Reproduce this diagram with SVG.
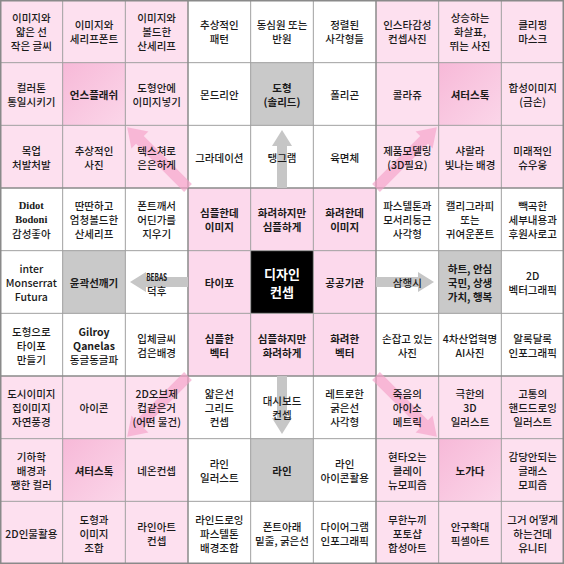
<svg xmlns="http://www.w3.org/2000/svg" width="564" height="564" viewBox="0 0 564 564">
<defs>
<linearGradient id="pdg" x1="0" y1="0" x2="1" y2="1">
<stop offset="0" stop-color="#f7b9d8"/>
<stop offset="1" stop-color="#fbd6e9"/>
</linearGradient>
</defs>
<style>
.t{font-family:"Noto Sans CJK KR","Noto Sans",sans-serif;font-size:10.5px;font-weight:500;text-anchor:middle;dominant-baseline:central;fill:#1a1a1a}
.b{font-weight:700}
.wt{fill:#ffffff;font-size:13px;font-weight:700}
.sf{font-family:"Liberation Serif",serif;font-weight:700}
.pk{fill:#fde0ef}
.pc{fill:#fcd9ec}
.wh{fill:#ffffff}
.pd{fill:url(#pdg)}
.gr{fill:#c9c9c9}
.bk{fill:#000000}
.gl{stroke:#a0a0a0;stroke-width:1;fill:none}
.bl{stroke:#8a8a8a;stroke-width:1.5;fill:none}
.ga{fill:#c6c6c6}
.pa{fill:#f4a4ca;opacity:0.68}
</style>
<g id="background">
<rect class="pk" x="0" y="0" width="188" height="188"/>
<rect class="wh" x="188" y="0" width="188" height="188"/>
<rect class="pk" x="376" y="0" width="188" height="188"/>
<rect class="wh" x="0" y="188" width="188" height="188"/>
<rect class="pc" x="188" y="188" width="188" height="188"/>
<rect class="wh" x="376" y="188" width="188" height="188"/>
<rect class="pk" x="0" y="376" width="188" height="188"/>
<rect class="wh" x="188" y="376" width="188" height="188"/>
<rect class="pk" x="376" y="376" width="188" height="188"/>
<rect class="pd" x="62.67" y="62.67" width="62.67" height="62.67"/>
<rect class="gr" x="250.67" y="62.67" width="62.67" height="62.67"/>
<rect class="pd" x="438.67" y="62.67" width="62.67" height="62.67"/>
<rect class="gr" x="62.67" y="250.67" width="62.67" height="62.67"/>
<rect class="bk" x="250.67" y="250.67" width="62.67" height="62.67"/>
<rect class="gr" x="438.67" y="250.67" width="62.67" height="62.67"/>
<rect class="pd" x="62.67" y="438.67" width="62.67" height="62.67"/>
<rect class="gr" x="250.67" y="438.67" width="62.67" height="62.67"/>
<rect class="pd" x="438.67" y="438.67" width="62.67" height="62.67"/>
<path class="gl" d="M62.67 0V564M125.33 0V564M250.67 0V564M313.33 0V564M438.67 0V564M501.33 0V564M0 62.67H564M0 125.33H564M0 250.67H564M0 313.33H564M0 438.67H564M0 501.33H564"/>
<path class="bl" d="M188 0V564M376 0V564M0 188H564M0 376H564"/>
<rect class="bl" x="0.75" y="0.75" width="562.5" height="562.5"/>
</g>
<g id="connectors">
<polygon class="ga" points="277,188 277,146 272,146 282,130 292,146 287,146 287,188"/>
<polygon class="ga" points="277,376 277,418 272,418 282,434 292,418 287,418 287,376"/>
<polygon class="ga" points="188,277 146,277 146,272 130,282 146,292 146,287 188,287"/>
<polygon class="ga" points="376,277 418,277 418,272 434,282 418,292 418,287 376,287"/>
<polygon class="pa" transform="translate(188,188) rotate(-135)" points="0,-5.5 68,-5.5 68,-12 86,0 68,12 68,5.5 0,5.5"/>
<polygon class="pa" transform="translate(376,188) rotate(-45)" points="0,-5.5 68,-5.5 68,-12 86,0 68,12 68,5.5 0,5.5"/>
<polygon class="pa" transform="translate(188,376) rotate(135)" points="0,-5.5 68,-5.5 68,-12 86,0 68,12 68,5.5 0,5.5"/>
<polygon class="pa" transform="translate(376,376) rotate(45)" points="0,-5.5 68,-5.5 68,-12 86,0 68,12 68,5.5 0,5.5"/>
</g>
<g id="nodes">
<g id="n-0-0"><text class="t"><tspan x="31.33" y="17.33">이미지와</tspan><tspan x="31.33" y="31.33">얇은 선</tspan><tspan x="31.33" y="45.33">작은 글씨</tspan></text></g>
<g id="n-0-1"><text class="t"><tspan x="94" y="24.33">이미지와</tspan><tspan x="94" y="38.33">세리프폰트</tspan></text></g>
<g id="n-0-2"><text class="t"><tspan x="156.67" y="17.33">이미지와</tspan><tspan x="156.67" y="31.33">볼드한</tspan><tspan x="156.67" y="45.33">산세리프</tspan></text></g>
<g id="n-0-3"><text class="t"><tspan x="219.33" y="24.33">추상적인</tspan><tspan x="219.33" y="38.33">패턴</tspan></text></g>
<g id="n-0-4"><text class="t"><tspan x="282" y="24.33">동심원 또는</tspan><tspan x="282" y="38.33">반원</tspan></text></g>
<g id="n-0-5"><text class="t"><tspan x="344.67" y="24.33">정렬된</tspan><tspan x="344.67" y="38.33">사각형들</tspan></text></g>
<g id="n-0-6"><text class="t"><tspan x="407.33" y="24.33">인스타감성</tspan><tspan x="407.33" y="38.33">컨셉사진</tspan></text></g>
<g id="n-0-7"><text class="t"><tspan x="470" y="17.33">상승하는</tspan><tspan x="470" y="31.33">화살표,</tspan><tspan x="470" y="45.33">뛰는 사진</tspan></text></g>
<g id="n-0-8"><text class="t"><tspan x="532.67" y="24.33">클리핑</tspan><tspan x="532.67" y="38.33">마스크</tspan></text></g>
<g id="n-1-0"><text class="t"><tspan x="31.33" y="87">컬러톤</tspan><tspan x="31.33" y="101">통일시키기</tspan></text></g>
<g id="n-1-1"><text class="t b"><tspan x="94" y="94">언스플래쉬</tspan></text></g>
<g id="n-1-2"><text class="t"><tspan x="156.67" y="87">도형안에</tspan><tspan x="156.67" y="101">이미지넣기</tspan></text></g>
<g id="n-1-3"><text class="t"><tspan x="219.33" y="94">몬드리안</tspan></text></g>
<g id="n-1-4"><text class="t b"><tspan x="282" y="87">도형</tspan><tspan x="282" y="101">(솔리드)</tspan></text></g>
<g id="n-1-5"><text class="t"><tspan x="344.67" y="94">폴리곤</tspan></text></g>
<g id="n-1-6"><text class="t"><tspan x="407.33" y="94">콜라쥬</tspan></text></g>
<g id="n-1-7"><text class="t b"><tspan x="470" y="94">셔터스톡</tspan></text></g>
<g id="n-1-8"><text class="t"><tspan x="532.67" y="87">합성이미지</tspan><tspan x="532.67" y="101">(금손)</tspan></text></g>
<g id="n-2-0"><text class="t"><tspan x="31.33" y="149.67">목업</tspan><tspan x="31.33" y="163.67">처발처발</tspan></text></g>
<g id="n-2-1"><text class="t"><tspan x="94" y="149.67">추상적인</tspan><tspan x="94" y="163.67">사진</tspan></text></g>
<g id="n-2-2"><text class="t"><tspan x="156.67" y="149.67">텍스쳐로</tspan><tspan x="156.67" y="163.67">은은하게</tspan></text></g>
<g id="n-2-3"><text class="t"><tspan x="219.33" y="156.67">그라데이션</tspan></text></g>
<g id="n-2-4"><text class="t"><tspan x="282" y="156.67">탱그램</tspan></text></g>
<g id="n-2-5"><text class="t"><tspan x="344.67" y="156.67">육면체</tspan></text></g>
<g id="n-2-6"><text class="t"><tspan x="407.33" y="149.67">제품모델링</tspan><tspan x="407.33" y="163.67">(3D필요)</tspan></text></g>
<g id="n-2-7"><text class="t"><tspan x="470" y="149.67">샤랄라</tspan><tspan x="470" y="163.67">빛나는 배경</tspan></text></g>
<g id="n-2-8"><text class="t"><tspan x="532.67" y="149.67">미래적인</tspan><tspan x="532.67" y="163.67">슈우웅</tspan></text></g>
<g id="n-3-0"><text class="t"><tspan class="sf" x="31.33" y="205.33">Didot</tspan><tspan class="sf" x="31.33" y="219.33">Bodoni</tspan><tspan x="31.33" y="233.33">감성좋아</tspan></text></g>
<g id="n-3-1"><text class="t"><tspan x="94" y="205.33">딴딴하고</tspan><tspan x="94" y="219.33">엄청볼드한</tspan><tspan x="94" y="233.33">산세리프</tspan></text></g>
<g id="n-3-2"><text class="t"><tspan x="156.67" y="205.33">폰트깨서</tspan><tspan x="156.67" y="219.33">어딘가를</tspan><tspan x="156.67" y="233.33">지우기</tspan></text></g>
<g id="n-3-3"><text class="t b"><tspan x="219.33" y="212.33">심플한데</tspan><tspan x="219.33" y="226.33">이미지</tspan></text></g>
<g id="n-3-4"><text class="t b"><tspan x="282" y="212.33">화려하지만</tspan><tspan x="282" y="226.33">심플하게</tspan></text></g>
<g id="n-3-5"><text class="t b"><tspan x="344.67" y="212.33">화려한데</tspan><tspan x="344.67" y="226.33">이미지</tspan></text></g>
<g id="n-3-6"><text class="t"><tspan x="407.33" y="205.33">파스텔톤과</tspan><tspan x="407.33" y="219.33">모서리둥근</tspan><tspan x="407.33" y="233.33">사각형</tspan></text></g>
<g id="n-3-7"><text class="t"><tspan x="470" y="205.33">캘리그라피</tspan><tspan x="470" y="219.33">또는</tspan><tspan x="470" y="233.33">귀여운폰트</tspan></text></g>
<g id="n-3-8"><text class="t"><tspan x="532.67" y="205.33">빽곡한</tspan><tspan x="532.67" y="219.33">세부내용과</tspan><tspan x="532.67" y="233.33">후원사로고</tspan></text></g>
<g id="n-4-0"><text class="t"><tspan x="31.33" y="268">inter</tspan><tspan x="31.33" y="282">Monserrat</tspan><tspan x="31.33" y="296">Futura</tspan></text></g>
<g id="n-4-1"><text class="t b"><tspan x="94" y="282">윤곽선깨기</tspan></text></g>
<g id="n-4-2"><text class="t"><tspan class="b" x="156.67" y="275.5" font-size="10" textLength="21" lengthAdjust="spacingAndGlyphs">BEBAS</tspan><tspan x="156.67" y="290">덕후</tspan></text></g>
<g id="n-4-3"><text class="t b"><tspan x="219.33" y="282">타이포</tspan></text></g>
<g id="n-4-4"><text class="t wt"><tspan x="282" y="273">디자인</tspan><tspan x="282" y="291">컨셉</tspan></text></g>
<g id="n-4-5"><text class="t b"><tspan x="344.67" y="282">공공기관</tspan></text></g>
<g id="n-4-6"><text class="t"><tspan x="407.33" y="282">삼행시</tspan></text></g>
<g id="n-4-7"><text class="t b"><tspan x="470" y="268">하트, 안심</tspan><tspan x="470" y="282">국민, 상생</tspan><tspan x="470" y="296">가치, 행복</tspan></text></g>
<g id="n-4-8"><text class="t"><tspan x="532.67" y="275">2D</tspan><tspan x="532.67" y="289">벡터그래픽</tspan></text></g>
<g id="n-5-0"><text class="t"><tspan x="31.33" y="330.67">도형으로</tspan><tspan x="31.33" y="344.67">타이포</tspan><tspan x="31.33" y="358.67">만들기</tspan></text></g>
<g id="n-5-1"><text class="t"><tspan class="b" x="94" y="330.67">Gilroy</tspan><tspan class="b" x="94" y="344.67">Qanelas</tspan><tspan x="94" y="358.67">동글동글파</tspan></text></g>
<g id="n-5-2"><text class="t"><tspan x="156.67" y="337.67">입체글씨</tspan><tspan x="156.67" y="351.67">검은배경</tspan></text></g>
<g id="n-5-3"><text class="t b"><tspan x="219.33" y="337.67">심플한</tspan><tspan x="219.33" y="351.67">벡터</tspan></text></g>
<g id="n-5-4"><text class="t b"><tspan x="282" y="337.67">심플하지만</tspan><tspan x="282" y="351.67">화려하게</tspan></text></g>
<g id="n-5-5"><text class="t b"><tspan x="344.67" y="337.67">화려한</tspan><tspan x="344.67" y="351.67">벡터</tspan></text></g>
<g id="n-5-6"><text class="t"><tspan x="407.33" y="337.67">손잡고 있는</tspan><tspan x="407.33" y="351.67">사진</tspan></text></g>
<g id="n-5-7"><text class="t"><tspan x="470" y="337.67">4차산업혁명</tspan><tspan x="470" y="351.67">AI사진</tspan></text></g>
<g id="n-5-8"><text class="t"><tspan x="532.67" y="337.67">알록달록</tspan><tspan x="532.67" y="351.67">인포그래픽</tspan></text></g>
<g id="n-6-0"><text class="t"><tspan x="31.33" y="393.33">도시이미지</tspan><tspan x="31.33" y="407.33">집이미지</tspan><tspan x="31.33" y="421.33">자연풍경</tspan></text></g>
<g id="n-6-1"><text class="t"><tspan x="94" y="407.33">아이콘</tspan></text></g>
<g id="n-6-2"><text class="t"><tspan x="156.67" y="393.33">2D오브제</tspan><tspan x="156.67" y="407.33">컵같은거</tspan><tspan x="156.67" y="421.33">(어떤 물건)</tspan></text></g>
<g id="n-6-3"><text class="t"><tspan x="219.33" y="393.33">얇은선</tspan><tspan x="219.33" y="407.33">그리드</tspan><tspan x="219.33" y="421.33">컨셉</tspan></text></g>
<g id="n-6-4"><text class="t"><tspan x="282" y="400.33">대시보드</tspan><tspan x="282" y="414.33">컨셉</tspan></text></g>
<g id="n-6-5"><text class="t"><tspan x="344.67" y="393.33">레트로한</tspan><tspan x="344.67" y="407.33">굵은선</tspan><tspan x="344.67" y="421.33">사각형</tspan></text></g>
<g id="n-6-6"><text class="t"><tspan x="407.33" y="393.33">죽음의</tspan><tspan x="407.33" y="407.33">아이소</tspan><tspan x="407.33" y="421.33">메트릭</tspan></text></g>
<g id="n-6-7"><text class="t"><tspan x="470" y="393.33">극한의</tspan><tspan x="470" y="407.33">3D</tspan><tspan x="470" y="421.33">일러스트</tspan></text></g>
<g id="n-6-8"><text class="t"><tspan x="532.67" y="393.33">고통의</tspan><tspan x="532.67" y="407.33">핸드드로잉</tspan><tspan x="532.67" y="421.33">일러스트</tspan></text></g>
<g id="n-7-0"><text class="t"><tspan x="31.33" y="456">기하학</tspan><tspan x="31.33" y="470">배경과</tspan><tspan x="31.33" y="484">쨍한 컬러</tspan></text></g>
<g id="n-7-1"><text class="t b"><tspan x="94" y="470">셔터스톡</tspan></text></g>
<g id="n-7-2"><text class="t"><tspan x="156.67" y="470">네온컨셉</tspan></text></g>
<g id="n-7-3"><text class="t"><tspan x="219.33" y="463">라인</tspan><tspan x="219.33" y="477">일러스트</tspan></text></g>
<g id="n-7-4"><text class="t b"><tspan x="282" y="470">라인</tspan></text></g>
<g id="n-7-5"><text class="t"><tspan x="344.67" y="463">라인</tspan><tspan x="344.67" y="477">아이콘활용</tspan></text></g>
<g id="n-7-6"><text class="t"><tspan x="407.33" y="456">현타오는</tspan><tspan x="407.33" y="470">클레이</tspan><tspan x="407.33" y="484">뉴모피즘</tspan></text></g>
<g id="n-7-7"><text class="t b"><tspan x="470" y="470">노가다</tspan></text></g>
<g id="n-7-8"><text class="t"><tspan x="532.67" y="456">감당안되는</tspan><tspan x="532.67" y="470">글래스</tspan><tspan x="532.67" y="484">모피즘</tspan></text></g>
<g id="n-8-0"><text class="t"><tspan x="31.33" y="532.67">2D인물활용</tspan></text></g>
<g id="n-8-1"><text class="t"><tspan x="94" y="518.67">도형과</tspan><tspan x="94" y="532.67">이미지</tspan><tspan x="94" y="546.67">조합</tspan></text></g>
<g id="n-8-2"><text class="t"><tspan x="156.67" y="525.67">라인아트</tspan><tspan x="156.67" y="539.67">컨셉</tspan></text></g>
<g id="n-8-3"><text class="t"><tspan x="219.33" y="518.67">라인드로잉</tspan><tspan x="219.33" y="532.67">파스텔톤</tspan><tspan x="219.33" y="546.67">배경조합</tspan></text></g>
<g id="n-8-4"><text class="t"><tspan x="282" y="525.67">폰트아래</tspan><tspan x="282" y="539.67">밑줄, 굵은선</tspan></text></g>
<g id="n-8-5"><text class="t"><tspan x="344.67" y="525.67">다이어그램</tspan><tspan x="344.67" y="539.67">인포그래픽</tspan></text></g>
<g id="n-8-6"><text class="t"><tspan x="407.33" y="518.67">무한누끼</tspan><tspan x="407.33" y="532.67">포토샵</tspan><tspan x="407.33" y="546.67">합성아트</tspan></text></g>
<g id="n-8-7"><text class="t"><tspan x="470" y="525.67">안구확대</tspan><tspan x="470" y="539.67">픽셀아트</tspan></text></g>
<g id="n-8-8"><text class="t"><tspan x="532.67" y="518.67">그거 어떻게</tspan><tspan x="532.67" y="532.67">하는건데</tspan><tspan x="532.67" y="546.67">유니티</tspan></text></g>
</g>
</svg>
